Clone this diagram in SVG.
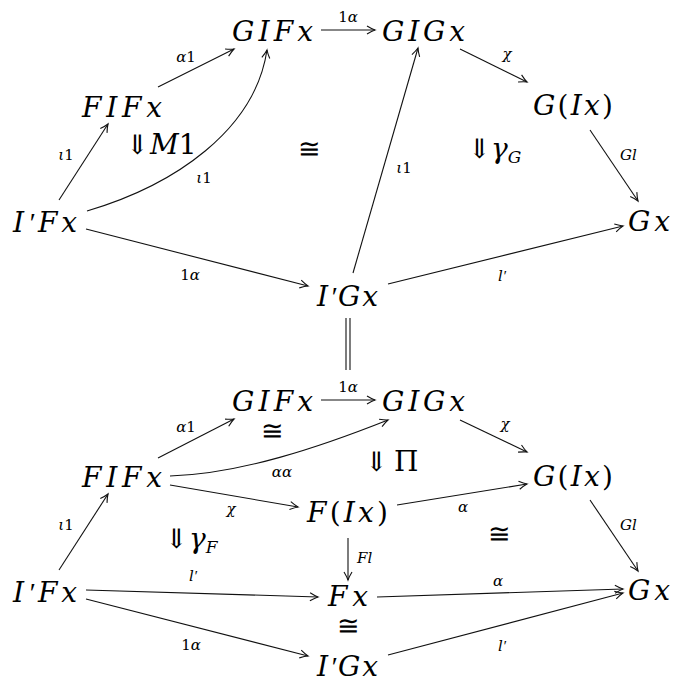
<svg xmlns="http://www.w3.org/2000/svg" width="674" height="686" viewBox="0 0 674 686">
<style>
.n{font-family:"DejaVu Serif","Liberation Serif",serif;font-style:italic;font-size:28px;fill:#000}
.l{font-family:"DejaVu Serif","Liberation Serif",serif;font-style:italic;font-size:15px;fill:#000}
.u{font-style:normal}
.p{font-family:"Liberation Serif",serif}
.s{font-family:"DejaVu Serif","Liberation Serif",serif;font-size:27px;fill:#000}
.e{fill:none;stroke:#111;stroke-width:1.1}
.a{marker-end:url(#ah)}
</style>
<defs>
<marker id="ah" viewBox="-10 -6 12 12" markerWidth="12" markerHeight="12" refX="0" refY="0" orient="auto" markerUnits="userSpaceOnUse">
<path d="M-8,-4 Q-3,-1 0,0 Q-3,1 -8,4" fill="none" stroke="#111" stroke-width="1.1"/>
</marker>
</defs>

<g id="connectors">
<line class="e a" x1="321" y1="30" x2="375" y2="30"/>
<line class="e a" x1="158" y1="87" x2="234" y2="49"/>
<line class="e a" x1="59" y1="200" x2="108" y2="124"/>
<path class="e a" d="M87,211 C175,185 255,130 267,50"/>
<line class="e a" x1="86" y1="229" x2="308" y2="286"/>
<line class="e a" x1="353" y1="273" x2="418" y2="48"/>
<line class="e a" x1="460" y1="49" x2="527" y2="82"/>
<line class="e a" x1="590" y1="130" x2="638" y2="201"/>
<line class="e a" x1="388" y1="284" x2="623" y2="226"/>
<line class="e" x1="346" y1="318" x2="346" y2="370"/>
<line class="e" x1="350" y1="318" x2="350" y2="370"/>

<line class="e a" x1="321" y1="400" x2="375" y2="400"/>
<line class="e a" x1="158" y1="458" x2="234" y2="419"/>
<path class="e a" d="M170,476 C240,474 320,447 388,420"/>
<line class="e a" x1="170" y1="485" x2="298" y2="507"/>
<line class="e a" x1="59" y1="570" x2="108" y2="494"/>
<line class="e a" x1="460" y1="420" x2="527" y2="452"/>
<line class="e a" x1="397" y1="505" x2="527" y2="484"/>
<line class="e a" x1="590" y1="500" x2="638" y2="571"/>
<line class="e a" x1="348" y1="538" x2="348" y2="580"/>
<line class="e a" x1="86" y1="590" x2="318" y2="597"/>
<line class="e a" x1="86" y1="599" x2="308" y2="656"/>
<line class="e a" x1="377" y1="597" x2="623" y2="589"/>
<line class="e a" x1="388" y1="655" x2="623" y2="593"/>

<text class="l" x="348" y="22" text-anchor="middle"><tspan class="u">1</tspan>α</text>
<text class="l" x="186" y="62" text-anchor="middle">α<tspan class="u">1</tspan></text>
<text class="l" x="66" y="160" text-anchor="middle">ι<tspan class="u">1</tspan></text>
<text class="l" x="204" y="183" text-anchor="middle">ι<tspan class="u">1</tspan></text>
<text class="l" x="190" y="280" text-anchor="middle"><tspan class="u">1</tspan>α</text>
<text class="l" x="404" y="173" text-anchor="middle">ι<tspan class="u">1</tspan></text>
<text class="l" x="507" y="59" text-anchor="middle">χ</text>
<text class="l" x="620" y="160">Gl</text>
<text class="l" x="502" y="281" text-anchor="middle">l<tspan class="p">′</tspan></text>

<text class="l" x="348" y="392" text-anchor="middle"><tspan class="u">1</tspan>α</text>
<text class="l" x="186" y="432" text-anchor="middle">α<tspan class="u">1</tspan></text>
<text class="l" x="282" y="477" text-anchor="middle">αα</text>
<text class="l" x="231" y="514" text-anchor="middle">χ</text>
<text class="l" x="66" y="530" text-anchor="middle">ι<tspan class="u">1</tspan></text>
<text class="l" x="505" y="429" text-anchor="middle">χ</text>
<text class="l" x="463" y="512" text-anchor="middle">α</text>
<text class="l" x="620" y="530">Gl</text>
<text class="l" x="357" y="563">Fl</text>
<text class="l" x="193" y="581" text-anchor="middle">l<tspan class="p">′</tspan></text>
<text class="l" x="191" y="650" text-anchor="middle"><tspan class="u">1</tspan>α</text>
<text class="l" x="498" y="586" text-anchor="middle">α</text>
<text class="l" x="502" y="651" text-anchor="middle">l<tspan class="p">′</tspan></text>
</g>

<g id="cells">
<text class="s" x="126" y="154">⇓</text>
<text class="n" x="150" y="154">M<tspan class="u">1</tspan></text>
<text class="s" x="309" y="158" text-anchor="middle">≅</text>
<text class="s" x="468" y="158">⇓</text>
<text class="n" x="491" y="158">γ<tspan font-size="17" dy="5">G</tspan></text>

<text class="s" x="272" y="440" text-anchor="middle" font-size="22">≅</text>
<text class="s" x="365" y="471">⇓</text>
<text class="n u" x="394" y="471">Π</text>
<text class="s" x="165" y="548">⇓</text>
<text class="n" x="189" y="548">γ<tspan font-size="17" dy="5">F</tspan></text>
<text class="s" x="499" y="543" text-anchor="middle">≅</text>
<text class="s" x="348" y="635" text-anchor="middle" font-size="22">≅</text>
</g>

<g id="n-GIFx-top"><text class="n" x="232" y="41" textLength="81" lengthAdjust="spacing">GIFx</text></g>
<g id="n-GIGx-top"><text class="n" x="382" y="41" textLength="83" lengthAdjust="spacing">GIGx</text></g>
<g id="n-FIFx-top"><text class="n" x="82" y="117" textLength="80" lengthAdjust="spacing">FIFx</text></g>
<g id="n-GIx-top"><text class="n" x="533" y="115" textLength="80" lengthAdjust="spacing">G<tspan class="u">(</tspan>Ix<tspan class="u">)</tspan></text></g>
<g id="n-IpFx-top"><text class="n" x="13" y="232" textLength="64" lengthAdjust="spacing">I<tspan class="p">′</tspan>Fx</text></g>
<g id="n-Gx-top"><text class="n" x="628" y="231" textLength="42" lengthAdjust="spacing">Gx</text></g>
<g id="n-IpGx-top"><text class="n" x="317" y="306" textLength="61" lengthAdjust="spacing">I<tspan class="p">′</tspan>Gx</text></g>

<g id="n-GIFx-bot"><text class="n" x="232" y="411" textLength="81" lengthAdjust="spacing">GIFx</text></g>
<g id="n-GIGx-bot"><text class="n" x="382" y="411" textLength="83" lengthAdjust="spacing">GIGx</text></g>
<g id="n-FIFx-bot"><text class="n" x="82" y="487" textLength="80" lengthAdjust="spacing">FIFx</text></g>
<g id="n-GIx-bot"><text class="n" x="533" y="486" textLength="80" lengthAdjust="spacing">G<tspan class="u">(</tspan>Ix<tspan class="u">)</tspan></text></g>
<g id="n-FIx-bot"><text class="n" x="307" y="522" textLength="81" lengthAdjust="spacing">F<tspan class="u">(</tspan>Ix<tspan class="u">)</tspan></text></g>
<g id="n-Fx-bot"><text class="n" x="328" y="606" textLength="40" lengthAdjust="spacing">Fx</text></g>
<g id="n-IpFx-bot"><text class="n" x="13" y="602" textLength="64" lengthAdjust="spacing">I<tspan class="p">′</tspan>Fx</text></g>
<g id="n-Gx-bot"><text class="n" x="628" y="600" textLength="42" lengthAdjust="spacing">Gx</text></g>
<g id="n-IpGx-bot"><text class="n" x="317" y="676" textLength="61" lengthAdjust="spacing">I<tspan class="p">′</tspan>Gx</text></g>
</svg>
